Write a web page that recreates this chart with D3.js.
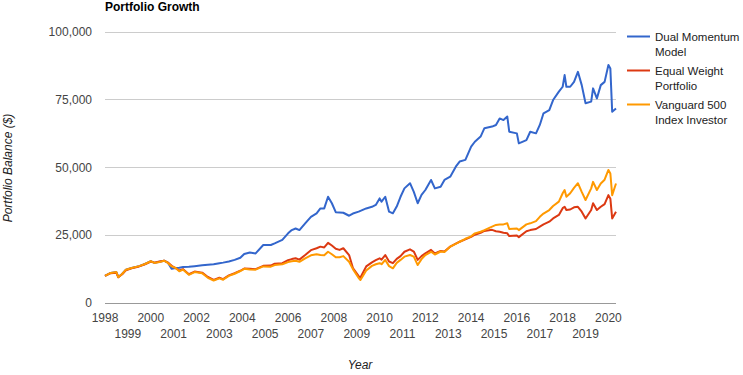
<!DOCTYPE html>
<html>
<head>
<meta charset="utf-8">
<script src="https://cdn.jsdelivr.net/npm/d3@7"></script>
<style>
  html, body { margin: 0; padding: 0; background: #fff; }
  svg { display: block; font-family: Arial, "Liberation Sans", sans-serif; }
</style>
</head>
<body>
<svg id="chart" width="743" height="375"></svg>
<script>
// ---- data ----
const dates = [
  "1998-01","1998-04","1998-07","1998-08","1998-10","1998-12","1999-03","1999-07","1999-10","2000-01",
  "2000-03","2000-05","2000-08","2000-10","2000-12","2001-02","2001-04","2001-06","2001-09","2001-12",
  "2002-04","2002-07","2002-10","2003-01","2003-03","2003-06","2003-09","2003-12","2004-02","2004-05",
  "2004-08","2004-12","2005-04","2005-06","2005-10","2006-01","2006-03","2006-05","2006-07","2006-10",
  "2007-01","2007-04","2007-06","2007-08","2007-10","2007-12","2008-02","2008-04","2008-06","2008-09",
  "2008-11","2009-02","2009-03","2009-06","2009-09","2009-11","2010-01","2010-02","2010-04","2010-06",
  "2010-08","2010-10","2010-12","2011-02","2011-05","2011-07","2011-09","2011-11","2012-01","2012-04",
  "2012-06","2012-09","2012-11","2013-02","2013-05","2013-07","2013-10","2014-01","2014-03","2014-06",
  "2014-08","2014-12","2015-02","2015-04","2015-06","2015-08","2015-09","2016-01","2016-02","2016-06",
  "2016-08","2016-11","2017-01","2017-03","2017-06","2017-08","2017-11","2018-01","2018-02","2018-03",
  "2018-05","2018-07","2018-09","2018-11","2019-01","2019-04","2019-05","2019-07","2019-09","2019-11",
  "2020-01","2020-02","2020-03","2020-05"
];
const dualMomentum = [
  10000,11100,11400,9600,10700,12300,12900,13600,14400,15400,
  14800,15100,15600,14900,12600,12900,13000,13300,13400,13600,
  13900,14100,14300,14700,14900,15300,15900,16700,18100,18600,
  18300,21400,21400,22000,23300,25700,26900,27500,26900,29400,
  31800,33100,34900,34900,39200,36800,33500,33400,33300,32200,
  33000,33700,34000,34900,35500,36200,38600,37400,39200,33700,
  33100,35600,39200,42300,44200,41000,36800,39900,41700,45400,
  42300,42900,45400,46600,50300,52200,52800,57700,59500,61400,
  64500,65100,65700,68100,67500,68800,63200,62600,58900,60100,
  63200,62600,65700,70000,71200,74900,78000,79800,84100,79800,
  79800,81600,85300,80400,73700,74300,79200,75500,80400,81600,
  87800,86500,70600,71800
];
const equalWeight = [
  10000,11000,11200,9500,10600,12100,12800,13500,14300,15300,
  14900,15200,15600,14900,13700,12900,12000,12500,10600,11600,
  11200,9600,8500,9300,8800,10200,11000,11900,12700,12600,
  12500,13700,13800,14500,14700,15800,16200,16500,16000,17700,
  19500,20200,20800,20500,22200,21200,20000,19600,20200,17700,
  12900,9900,9400,13500,15000,15800,16500,16000,17700,15300,
  14700,16300,17300,18900,19800,19000,15900,17300,18300,19600,
  18300,19200,19000,20800,21900,22600,23500,24400,25200,25900,
  26600,27000,26500,26300,25900,25700,24700,24900,24300,26500,
  26900,27300,28200,29000,30000,31200,32500,35000,35500,34300,
  34500,35300,35500,33700,31200,34300,36800,34300,35500,36500,
  39800,38500,31200,33700
];
const vanguard500 = [
  10000,11100,11400,9500,10700,12300,12900,13600,14400,15400,
  14800,15000,15600,14800,13500,12900,11700,12300,10400,11400,
  11000,9300,8300,9100,8600,10000,10800,11800,12600,12400,
  12300,13500,13400,14000,14300,15100,15400,15600,15200,16500,
  17600,18000,17700,17600,18900,18000,16900,16900,17300,15200,
  12500,9200,8500,12000,13700,14300,14700,14300,15900,13600,
  12800,14800,15900,17100,17700,17100,14000,16200,17700,18900,
  17900,19000,18800,20800,21800,22600,23700,24600,25700,26300,
  26900,28200,28800,29000,29000,29400,27300,27500,26900,29000,
  29400,30200,31800,33000,34300,35800,37400,40500,41700,39200,
  40500,42500,44200,41000,38000,42300,44700,41700,44100,45500,
  49100,47800,39800,44100
];
const seriesNames = ["Dual Momentum Model", "Equal Weight Portfolio", "Vanguard 500 Index Investor"];
const legendLines = [["Dual Momentum", "Model"], ["Equal Weight", "Portfolio"], ["Vanguard 500", "Index Investor"]];
const yTicks = [0, 25000, 50000, 75000, 100000];
const xTickYears = d3.range(1998, 2021);
const colors = ["#3366cc", "#dc3912", "#ff9900"];

// ---- chart ----
const svg = d3.select("#chart");
const parse = d3.timeParse("%Y-%m");
const t = dates.map(parse);
const values = [dualMomentum, equalWeight, vanguard500];

const x = d3.scaleTime().domain(d3.extent(t)).range([105, 616]);
const y = d3.scaleLinear().domain([0, 100000]).range([303, 32]);

// gridlines
svg.append("g").selectAll("line").data(yTicks.filter(d => d !== 0)).join("line")
  .attr("x1", 105).attr("x2", 616)
  .attr("y1", d => y(d)).attr("y2", d => y(d))
  .attr("stroke", "#cccccc").attr("stroke-width", 1).attr("shape-rendering", "crispEdges");

// y tick labels
svg.append("g").selectAll("text").data(yTicks).join("text")
  .attr("x", 92).attr("y", d => y(d)).attr("dy", "0.35em")
  .attr("text-anchor", "end").attr("font-size", 12).attr("fill", "#444")
  .text(d => d3.format(",")(d));

// x tick labels (two rows)
svg.append("g").selectAll("text").data(xTickYears).join("text")
  .attr("x", d => x(new Date(d, 0, 1)))
  .attr("y", (d, i) => i % 2 === 0 ? 318 : 334).attr("dy", "0.35em")
  .attr("text-anchor", "middle").attr("font-size", 12).attr("fill", "#444")
  .text(d => d);

// lines
const line = d3.line().x((d, i) => x(t[i])).y(d => y(d));
svg.append("g").selectAll("path").data(values).join("path")
  .attr("d", d => line(d))
  .attr("fill", "none")
  .attr("stroke", (d, i) => colors[i])
  .attr("stroke-width", 2)
  .attr("stroke-linejoin", "round");

// baseline
svg.append("line").attr("x1", 105).attr("x2", 616).attr("y1", y(0)).attr("y2", y(0))
  .attr("stroke", "#999").attr("stroke-width", 1).attr("shape-rendering", "crispEdges");

// title
svg.append("text").attr("x", 105).attr("y", 11).attr("font-size", 12).attr("font-weight", "bold")
  .attr("fill", "#000").text("Portfolio Growth");

// axis titles
svg.append("text").attr("x", 360).attr("y", 365).attr("dy", "0.35em")
  .attr("text-anchor", "middle").attr("font-size", 12).attr("font-style", "italic").attr("fill", "#222")
  .text("Year");
svg.append("text").attr("transform", "translate(8,168) rotate(-90)").attr("dy", "0.35em")
  .attr("text-anchor", "middle").attr("font-size", 12).attr("font-style", "italic").attr("fill", "#222")
  .text("Portfolio Balance ($)");

// legend
const legendY = [36.5, 70.5, 104.5];
const lg = svg.append("g").selectAll("g").data(seriesNames).join("g")
  .attr("transform", (d, i) => `translate(0,${legendY[i]})`);
lg.append("line").attr("x1", 627).attr("x2", 650).attr("y1", 0).attr("y2", 0)
  .attr("stroke", (d, i) => colors[i]).attr("stroke-width", 2);
lg.append("text").attr("x", 655).attr("y", 0)
  .attr("font-size", 11.5).attr("fill", "#222")
  .selectAll("tspan").data((d, i) => legendLines[i]).join("tspan")
  .attr("x", 655).attr("dy", (d, j) => j === 0 ? "0.35em" : "15.5px")
  .text(d => d);
</script>
</body>
</html>
